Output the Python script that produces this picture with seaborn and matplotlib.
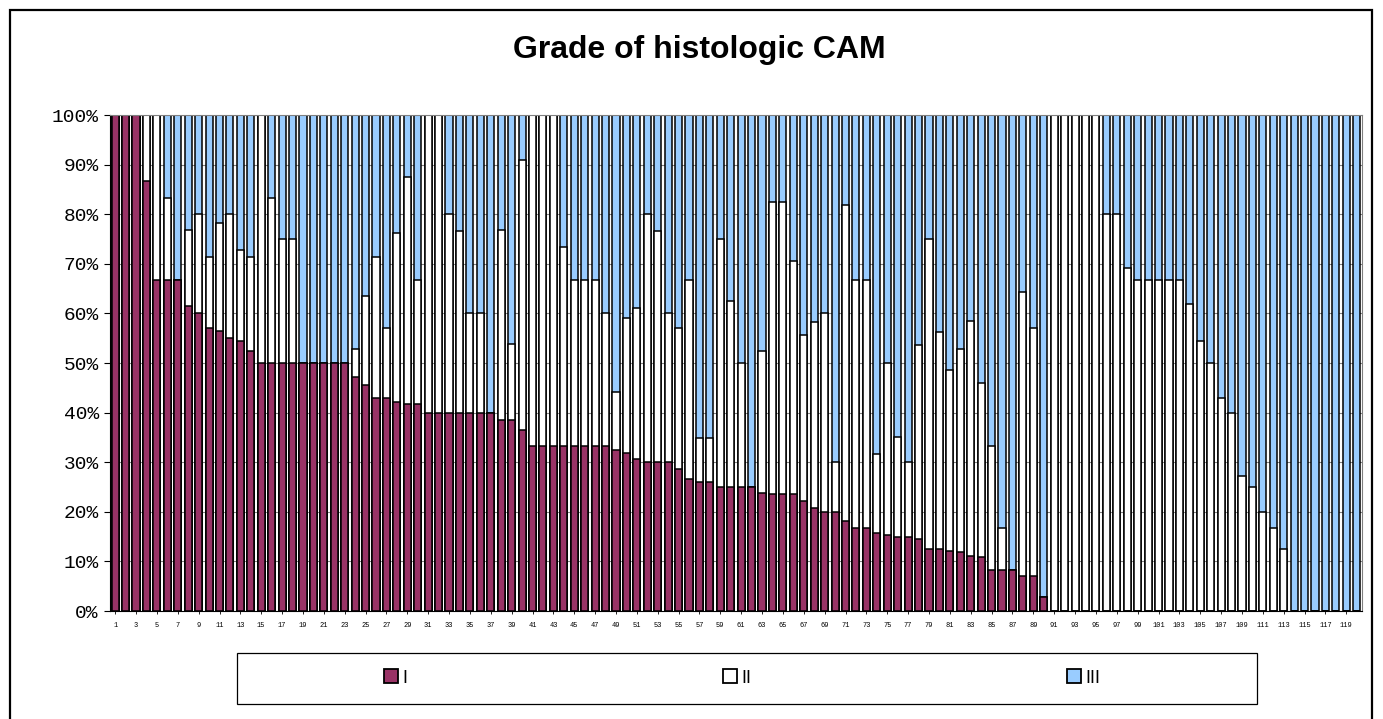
import matplotlib
matplotlib.use("Agg")
import matplotlib.pyplot as plt
from matplotlib.patches import Patch, Rectangle
import seaborn as sns
import pandas as pd

# share of grade I per sample (%)
grade_I = [100, 100, 100, 86.7, 66.7, 66.7, 66.7, 61.5, 60, 57.1,
           56.5, 55, 54.5, 52.4, 50, 50, 50, 50, 50, 50,
           50, 50, 50, 47.1, 45.5, 42.9, 42.9, 42.1, 41.7, 41.7,
           40, 40, 40, 40, 40, 40, 40, 38.5, 38.5, 36.4,
           33.3, 33.3, 33.3, 33.3, 33.3, 33.3, 33.3, 33.3, 32.4, 31.8,
           30.6, 30, 30, 30, 28.6, 26.7, 26.1, 26.1, 25, 25,
           25, 25, 23.8, 23.5, 23.5, 23.5, 22.2, 20.8, 20, 20,
           18.2, 16.7, 16.7, 15.8, 15.4, 15, 15, 14.6, 12.5, 12.5,
           12.1, 11.8, 11.1, 10.8, 8.3, 8.3, 8.3, 7.1, 7.1, 2.9,
           0, 0, 0, 0, 0, 0, 0, 0, 0, 0,
           0, 0, 0, 0, 0, 0, 0, 0, 0, 0,
           0, 0, 0, 0, 0, 0, 0, 0, 0, 0]

# cumulative share of grade I + II per sample (%)
grade_I_II = [100, 100, 100, 100, 100, 83.3, 66.7, 76.9, 80, 71.4,
              78.3, 80, 72.7, 71.4, 100, 83.3, 75, 75, 50, 50,
              50, 50, 50, 52.9, 63.6, 71.4, 57.1, 76.3, 87.5, 66.7,
              100, 100, 80, 76.7, 60, 60, 40, 76.9, 53.8, 90.9,
              100, 100, 100, 73.3, 66.7, 66.7, 66.7, 60, 44.1, 59.1,
              61.1, 80, 76.7, 60, 57.1, 66.7, 34.8, 34.8, 75, 62.5,
              50, 25, 52.4, 82.4, 82.4, 70.6, 55.6, 58.3, 60, 30,
              81.8, 66.7, 66.7, 31.6, 50, 35, 30, 53.7, 75, 56.3,
              48.5, 52.9, 58.5, 45.9, 33.3, 16.7, 8.3, 64.3, 57.1, 2.9,
              100, 100, 100, 100, 100, 80, 80, 69.2, 66.7, 66.7,
              66.7, 66.7, 66.7, 61.9, 54.5, 50, 42.9, 40, 27.3, 25,
              20, 16.7, 12.5, 0, 0, 0, 0, 0, 0, 0]

samples = [str(i) for i in range(1, 121)]
grade_labels = ["I", "II", "III"]
grade_colors = ["#993366", "#ffffff", "#99ccff"]

df = pd.DataFrame({"sample": samples, "I": grade_I, "I_II": grade_I_II})
df["all"] = 100.0

sns.set_style("white")
plt.rcParams["font.family"] = ["Liberation Sans", "DejaVu Sans"]
plt.rcParams["text.color"] = "black"
plt.rcParams["xtick.color"] = "black"
plt.rcParams["ytick.color"] = "black"

fig = plt.figure(figsize=(13.83, 7.19), dpi=100)
ax = fig.add_axes([0.0795, 0.1502, 0.9053, 0.6898])

# stacked 100% bars: draw III (full), then I+II, then I on top
for col, color in [("all", grade_colors[2]), ("I_II", grade_colors[1]), ("I", grade_colors[0])]:
    sns.barplot(data=df, x="sample", y=col, order=samples, color=color,
                edgecolor="black", linewidth=1.1, width=0.68, saturation=1, ax=ax)

ax.set_xlim(-0.5, len(samples) - 0.5)
ax.set_ylim(0, 100)
ax.set_yticks(range(0, 101, 10))
ax.set_yticklabels([f"{v}%" for v in range(0, 101, 10)],
                   family=["Liberation Mono", "DejaVu Sans Mono"], fontsize=14)
ax.set_xticks(range(0, len(samples), 2))
ax.set_xticklabels(samples[::2], family=["Liberation Mono", "DejaVu Sans Mono"], fontsize=5)
ax.tick_params(axis="y", length=4, width=0.8, color="black", pad=4, left=True)
ax.tick_params(axis="x", length=2, width=0.6, color="black", pad=6, bottom=True)
ax.set_xlabel("")
ax.set_ylabel("")
ax.yaxis.grid(True, color="#808080", linewidth=0.8)
ax.set_axisbelow(True)
for s in ax.spines.values():
    s.set_color("#808080")
    s.set_linewidth(0.8)
ax.spines["left"].set_color("black")
ax.spines["bottom"].set_color("black")

fig.text(0.506, 0.930, "Grade of histologic CAM", ha="center", va="center",
         fontsize=23, fontweight="bold", color="black")

# legend with its own frame
fig.patches.append(Rectangle((237 / 1383, 1 - 704 / 719), 1020 / 1383, 51 / 719,
                             transform=fig.transFigure, fill=False,
                             edgecolor="black", linewidth=0.9))
handles = [Patch(facecolor=c, edgecolor="black", linewidth=1.3) for c in grade_colors]
fig.legend(handles, grade_labels, loc="center", bbox_to_anchor=(742 / 1383, 1 - 678 / 719),
           ncol=3, frameon=False, fontsize=13, handlelength=0.8, handleheight=0.8,
           handletextpad=0.2, columnspacing=17.5, labelcolor="black")

# outer chart border
fig.patches.append(Rectangle((10 / 1383, -0.05), 1362 / 1383, 1.05 - 10 / 719,
                             transform=fig.transFigure, fill=False,
                             edgecolor="black", linewidth=1.6))

fig.savefig("out.png", dpi=100)
